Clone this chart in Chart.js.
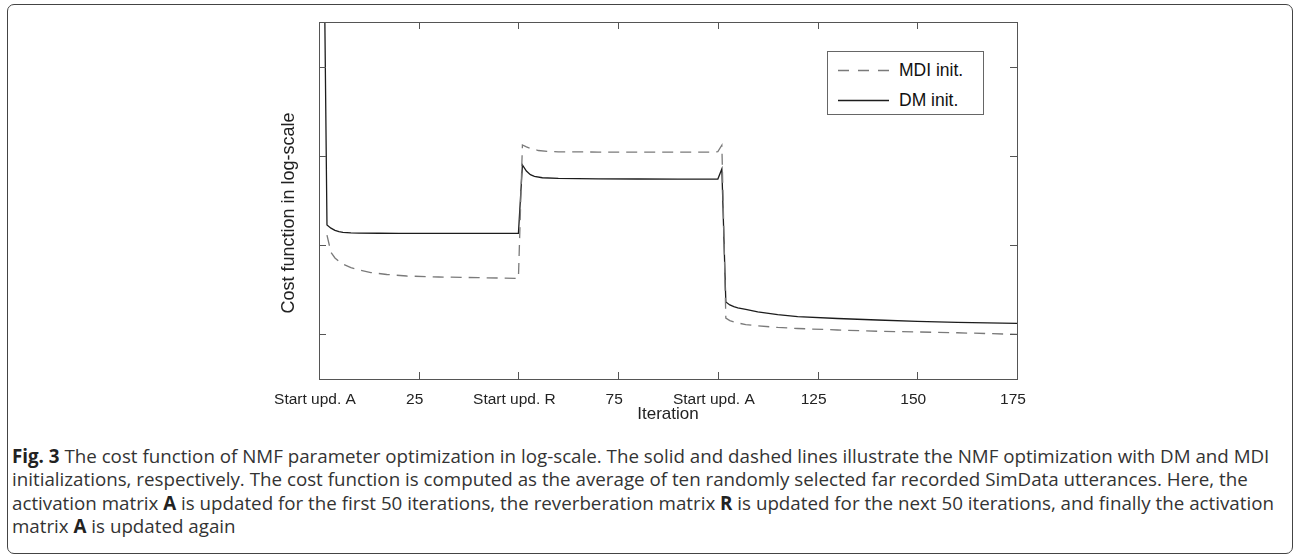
<!DOCTYPE html>
<html>
<head>
<meta charset="utf-8">
<script src="https://cdn.jsdelivr.net/npm/chart.js@4"></script>
<style>
html,body{margin:0;padding:0;background:#fff;}
body{width:1294px;height:557px;position:relative;overflow:hidden;}
#frame{position:absolute;left:7px;top:4px;width:1286px;height:550px;border:1.5px solid #444;border-radius:7px;box-sizing:border-box;}
#wrap{position:absolute;left:0;top:0;width:1294px;height:430px;}
#legend{position:absolute;left:827px;top:51px;width:157px;height:64px;border:1px solid #666;box-sizing:border-box;background:#fff;font-family:"Liberation Sans",Arial,Helvetica,sans-serif;font-size:17.5px;color:#111;}
#legend .row{position:absolute;left:0;width:100%;height:20px;line-height:20px;white-space:nowrap;}
#legend svg{position:absolute;left:10px;top:0;}
#legend span{position:absolute;left:71px;top:0;}
#caption{position:absolute;left:12px;top:444px;font-family:"Open Sans",sans-serif;color:#333;line-height:23.3px;white-space:nowrap;font-size:16px;}
#caption b{color:#222;}
</style>
</head>
<body>
<div id="frame"></div>
<div id="wrap"><canvas id="c" width="1294" height="430"></canvas></div>
<div id="legend"></div>
<div id="caption">
<div class="ln" id="ln1"><b>Fig. 3</b> The cost function of NMF parameter optimization in log-scale. The solid and dashed lines illustrate the NMF optimization with DM and MDI</div>
<div class="ln">initializations, respectively. The cost function is computed as the average of ten randomly selected far recorded SimData utterances. Here, the</div>
<div class="ln">activation matrix <b>A</b> is updated for the first 50 iterations, the reverberation matrix <b>R</b> is updated for the next 50 iterations, and finally the activation</div>
<div class="ln">matrix <b>A</b> is updated again</div>
</div>
<script>
// ---- data (cost in log-scale units) ----
const iterDM = [0,1,2,3,4,5,6,8,10,15,20,30,40,50,51,52,53,54,56,60,70,80,90,100,101,102,103,104,105,107,110,115,120,130,140,150,160,175];
const costDM = [6.0,6.0,1.725,1.69,1.665,1.65,1.643,1.637,1.635,1.633,1.632,1.632,1.632,1.632,2.398,2.33,2.29,2.27,2.255,2.247,2.243,2.241,2.24,2.24,2.353,0.863,0.83,0.81,0.797,0.78,0.752,0.722,0.70,0.678,0.661,0.646,0.635,0.624];
const iterMDI = [2,3,4,5,6,8,10,13,17,22,30,40,50,51,52,53,55,58,60,70,80,90,99,100,101,102,103,104,105,107,110,115,120,130,140,150,160,175];
const costMDI = [1.613,1.42,1.356,1.317,1.288,1.249,1.221,1.193,1.171,1.154,1.143,1.135,1.128,2.622,2.60,2.583,2.56,2.548,2.545,2.543,2.543,2.543,2.543,2.547,2.62,0.683,0.655,0.64,0.628,0.61,0.595,0.578,0.566,0.549,0.535,0.527,0.518,0.50];
const xTickValues = [0,25,50,75,100,125,150,175];
const xTickLabels = ['Start upd. A','25','Start upd. R','75','Start upd. A','125','150','175'];
const yTickValues = [0.5,1.5,2.5,3.5];
const seriesLabels = ['MDI init.','DM init.'];

const toXY = (xs, ys) => xs.map((x,i)=>({x:x, y:ys[i]}));

const frameTicks = {
  id:'frameTicks',
  afterDatasetsDraw(chart){
    const {ctx, chartArea:a, scales:{x,y}} = chart;
    ctx.save();
    ctx.strokeStyle = '#555';
    ctx.lineWidth = 1;
    ctx.beginPath();
    const L = 7;
    x.ticks.forEach(t=>{
      const px = Math.round(x.getPixelForValue(t.value))+0.5;
      ctx.moveTo(px, a.bottom); ctx.lineTo(px, a.bottom-L);
      ctx.moveTo(px, a.top); ctx.lineTo(px, a.top+L);
    });
    y.ticks.forEach(t=>{
      const py = Math.round(y.getPixelForValue(t.value))+0.5;
      ctx.moveTo(a.left, py); ctx.lineTo(a.left+L, py);
      ctx.moveTo(a.right, py); ctx.lineTo(a.right-L, py);
    });
    ctx.stroke();
    ctx.strokeRect(Math.round(a.left)+0.5, Math.round(a.top)+0.5, Math.round(a.right-a.left), Math.round(a.bottom-a.top));
    ctx.restore();
  }
};

const chart = new Chart(document.getElementById('c'), {
  type:'line',
  data:{datasets:[
    {label:seriesLabels[0], data:toXY(iterMDI,costMDI), borderColor:'#7a7a7a', borderWidth:1.3, borderDash:[11,7], pointRadius:0, tension:0, fill:false},
    {label:seriesLabels[1], data:toXY(iterDM,costDM), borderColor:'#1c1c1c', borderWidth:1.3, pointRadius:0, tension:0, fill:false}
  ]},
  options:{
    responsive:false, animation:false, devicePixelRatio:1,
    layout:{padding:{left:278,right:277,top:22,bottom:5}},
    plugins:{legend:{display:false}, tooltip:{enabled:false}},
    scales:{
      x:{type:'linear', min:0, max:175,
        afterBuildTicks(s){ s.ticks = xTickValues.map(v=>({value:v})); },
        afterFit(s){ s.height = 46; },
        grid:{display:false, drawTicks:false}, border:{display:false},
        ticks:{autoSkip:false, maxRotation:0, padding:11, color:'#222', labelOffset:-4,
          font:{family:'"Liberation Sans", Arial, Helvetica, sans-serif', size:15.5},
          callback:(v,i)=>xTickLabels[i]},
        title:{display:true, text:'Iteration', color:'#222', padding:0,
          font:{family:'"Liberation Sans", Arial, Helvetica, sans-serif', size:17}}
      },
      y:{type:'linear', min:0, max:4,
        afterBuildTicks(s){ s.ticks = yTickValues.map(v=>({value:v})); },
        afterFit(s){ s.width = 41; },
        grid:{display:false, drawTicks:false}, border:{display:false},
        ticks:{display:false},
        title:{display:true, text:'Cost function in log-scale     ', color:'#222', padding:0,
          font:{family:'"Liberation Sans", Arial, Helvetica, sans-serif', size:18}}
      }
    }
  },
  plugins:[frameTicks]
});

// legend built from the chart's datasets
const leg = document.getElementById('legend');
const rowTops = [8, 38];
chart.data.datasets.forEach((ds,i)=>{
  const row = document.createElement('div');
  row.className='row'; row.style.top = rowTops[i]+'px';
  const dash = ds.borderDash ? 'stroke-dasharray="11 9"' : '';
  row.innerHTML = '<svg width="52" height="20"><line x1="0" y1="10.5" x2="51" y2="10.5" stroke="'+ds.borderColor+'" stroke-width="1.3" '+dash+'/></svg><span>'+ds.label+'</span>';
  leg.appendChild(row);
});

// fit caption width
const cap = document.getElementById('caption');
const l1 = document.getElementById('ln1');
const r = document.createRange(); r.selectNodeContents(l1);
const tw = r.getBoundingClientRect().width;
cap.style.fontSize = (16*1258/tw).toFixed(2)+'px';
</script>
</body>
</html>
